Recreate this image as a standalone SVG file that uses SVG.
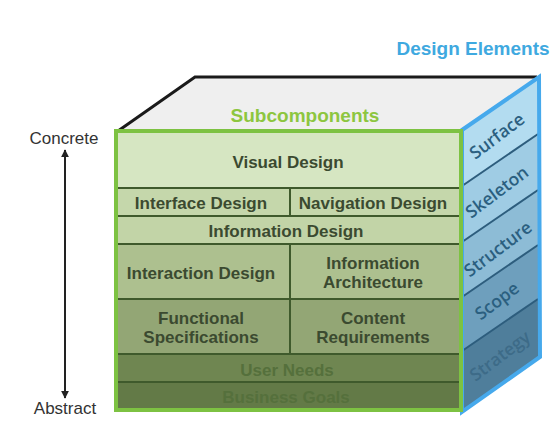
<svg xmlns="http://www.w3.org/2000/svg" width="553" height="439" viewBox="0 0 553 439">
<defs>
<marker id="ah" viewBox="0 0 10 10" refX="9" refY="5" markerWidth="8" markerHeight="8" markerUnits="userSpaceOnUse" orient="auto-start-reverse">
<path d="M0,0 L10,5 L0,10 z" fill="#222"/>
</marker>
<style>
.t{font-family:"Liberation Sans",Arial,sans-serif;font-weight:bold;font-size:17px;fill:#3b4a30;text-anchor:middle}
.tl{font-family:"Liberation Sans",Arial,sans-serif;font-weight:bold;font-size:17px;fill:#55703c;text-anchor:middle}
.div{stroke:#3f5a2c;stroke-width:2;fill:none}
.r{font-family:"Open Sans","DejaVu Sans",sans-serif;font-weight:600;font-size:17.5px;fill:#2b5f80;text-anchor:middle}
.bl{stroke:#2d5d7d;stroke-width:2;fill:none}
.ax{font-family:"Liberation Sans",Arial,sans-serif;font-size:17px;fill:#333;text-anchor:middle}
</style>
</defs>
<rect width="553" height="439" fill="#ffffff"/>

<g id="title">
<text x="473" y="55" font-family="Liberation Sans, Arial, sans-serif" font-weight="bold" font-size="19" fill="#3fa9e0" text-anchor="middle">Design Elements</text>
</g>

<g id="top-face">
<polygon points="118,130 195,77 538,77 462,130" fill="#efefef"/>
<polyline points="118,131 195,77 537,77" fill="none" stroke="#1a1a1a" stroke-width="3"/>
<text x="305" y="122" font-family="Liberation Sans, Arial, sans-serif" font-weight="bold" font-size="19" fill="#8dc63f" text-anchor="middle">Subcomponents</text>
</g>

<g id="right-face">
<polygon points="462,130 538,78 538,134 462,186" fill="#b3dcf0"/>
<polygon points="462,186 538,134 538,190 462,242" fill="#9fcce4"/>
<polygon points="462,242 538,190 538,245 462,297" fill="#8dbcd6"/>
<polygon points="462,297 538,245 538,299 462,351" fill="#6e9fbd"/>
<polygon points="462,351 538,299 538,357 462,411" fill="#4f7e9b"/>
<line class="bl" x1="462" y1="186" x2="538" y2="134"/>
<line class="bl" x1="462" y1="242" x2="538" y2="190"/>
<line class="bl" x1="462" y1="297" x2="538" y2="245"/>
<line class="bl" x1="462" y1="351" x2="538" y2="299"/>
<polygon points="462,130 539,77 540,357 462,412" fill="none" stroke="#46a9ec" stroke-width="4" stroke-linejoin="miter"/>
<text class="r" transform="translate(497,136) rotate(-37)" y="6">Surface</text>
<text class="r" transform="translate(497,192) rotate(-37)" y="6">Skeleton</text>
<text class="r" transform="translate(498,249) rotate(-37)" y="6">Structure</text>
<text class="r" transform="translate(497,301) rotate(-37)" y="6">Scope</text>
<text class="r" transform="translate(500,356) rotate(-37)" y="6" style="fill:#3d6b88">Strategy</text>
</g>

<g id="front-face">
<rect x="118" y="133" width="341" height="55" fill="#d6e6c2"/>
<rect x="118" y="188" width="341" height="28" fill="#c5d7ab"/>
<rect x="118" y="216" width="341" height="28" fill="#c2d4a7"/>
<rect x="118" y="244" width="341" height="55" fill="#adc08f"/>
<rect x="118" y="299" width="341" height="55" fill="#93a675"/>
<rect x="118" y="354" width="341" height="28" fill="#6f8651"/>
<rect x="118" y="382" width="341" height="27" fill="#637a47"/>
<line class="div" x1="118" y1="188" x2="459" y2="188"/>
<line class="div" x1="118" y1="216" x2="459" y2="216"/>
<line class="div" x1="118" y1="244" x2="459" y2="244"/>
<line class="div" x1="118" y1="299" x2="459" y2="299"/>
<line class="div" x1="118" y1="354" x2="459" y2="354"/>
<line class="div" x1="118" y1="382" x2="459" y2="382"/>
<line class="div" x1="290" y1="188" x2="290" y2="216"/>
<line class="div" x1="290" y1="244" x2="290" y2="354"/>
<rect x="116" y="131" width="345" height="279" fill="none" stroke="#7dc242" stroke-width="4"/>
</g>

<g id="visual-design"><text class="t" x="288" y="168">Visual Design</text></g>
<g id="interface-design"><text class="t" x="201" y="209">Interface Design</text></g>
<g id="navigation-design"><text class="t" x="373" y="209">Navigation Design</text></g>
<g id="information-design"><text class="t" x="286" y="237">Information Design</text></g>
<g id="interaction-design"><text class="t" x="201" y="279">Interaction Design</text></g>
<g id="information-architecture"><text class="t" x="373" y="269">Information</text><text class="t" x="373" y="288">Architecture</text></g>
<g id="functional-specifications"><text class="t" x="201" y="324">Functional</text><text class="t" x="201" y="343">Specifications</text></g>
<g id="content-requirements"><text class="t" x="373" y="324">Content</text><text class="t" x="373" y="343">Requirements</text></g>
<g id="user-needs"><text class="tl" x="287" y="376">User Needs</text></g>
<g id="business-goals"><text class="tl" x="286" y="403">Business Goals</text></g>

<g id="axis">
<text class="ax" x="64" y="144">Concrete</text>
<text class="ax" x="65" y="414">Abstract</text>
</g>
<g id="connectors">
<line x1="65" y1="150" x2="65" y2="398" stroke="#222" stroke-width="2" marker-start="url(#ah)" marker-end="url(#ah)"/>
</g>
</svg>
